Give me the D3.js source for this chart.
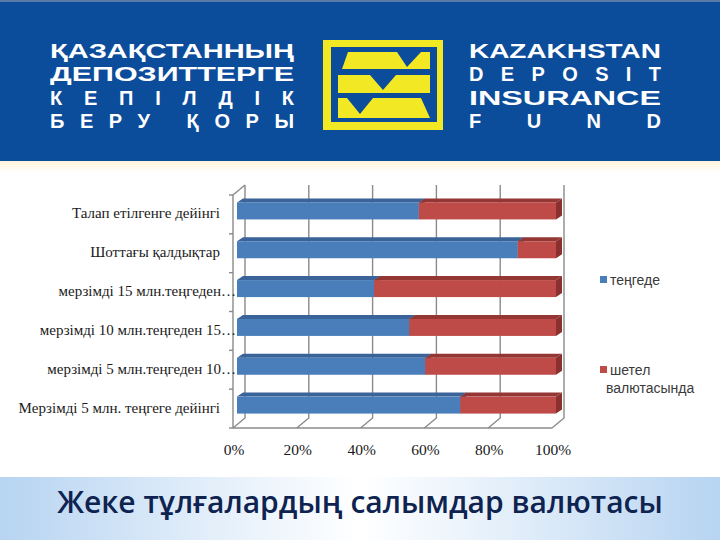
<!DOCTYPE html>
<html>
<head>
<meta charset="utf-8">
<script src="https://cdn.jsdelivr.net/npm/d3@7"></script>
<style>
  html, body { margin: 0; padding: 0; background: #ffffff; }
  svg { display: block; }
</style>
</head>
<body>
<svg id="chart" width="720" height="540"></svg>
<script>
// ---------------- data ----------------
const categories = [
  "Талап етілгенге дейінгі",
  "Шоттағы қалдықтар",
  "мерзімді 15 млн.теңгеден…",
  "мерзімді 10 млн.теңгеден 15…",
  "мерзімді 5 млн.теңгеден 10…",
  "Мерзімді 5 млн. теңгеге дейінгі"
];
const tengeShare   = [57, 88, 43, 54, 59, 70];
const foreignShare = [43, 12, 57, 46, 41, 30];
const seriesNames  = ["теңгеде", "шетел валютасында"];
const tickValues   = [0, 20, 40, 60, 80, 100];
const tickLabels   = ["0%", "20%", "40%", "60%", "80%", "100%"];
const headerLeft   = ["ҚАЗАҚСТАННЫҢ", "ДЕПОЗИТТЕРГЕ", "КЕПІЛДІК", "БЕРУ ҚОРЫ"];
const headerRight  = ["KAZAKHSTAN", "DEPOSIT", "INSURANCE", "FUND"];
const title        = "Жеке тұлғалардың салымдар валютасы";

// ---------------- drawing ----------------
const svg = d3.select("#chart");
const defs = svg.append("defs");

// header band
svg.append("rect").attr("x", 0).attr("y", 0).attr("width", 720).attr("height", 161).attr("fill", "#0b4c9b");
svg.append("rect").attr("x", 0).attr("y", 0).attr("width", 720).attr("height", 2).attr("fill", "#5a7aa5");
const cream = defs.append("linearGradient").attr("id", "cream").attr("x1", 0).attr("y1", 0).attr("x2", 0).attr("y2", 1);
cream.append("stop").attr("offset", 0).attr("stop-color", "#fff3dc");
cream.append("stop").attr("offset", 1).attr("stop-color", "#ffffff");
svg.append("rect").attr("x", 0).attr("y", 161).attr("width", 720).attr("height", 12).attr("fill", "url(#cream)");

// header texts: dense words are stretched, spaced words are letter-spaced
const hdrFont = "'Liberation Sans', Arial, sans-serif";
const baselines = [58, 81.3, 104.6, 127.9];
const spaced = new Set(["КЕПІЛДІК", "БЕРУ ҚОРЫ", "DEPOSIT", "FUND"]);
function headerBlock(lines, x0, w) {
  svg.append("g").selectAll("text").data(lines).join("text")
    .attr("x", x0).attr("y", (d, i) => baselines[i])
    .attr("textLength", w)
    .attr("lengthAdjust", d => spaced.has(d) ? "spacing" : "spacingAndGlyphs")
    .attr("font-family", hdrFont).attr("font-weight", "bold").attr("font-size", 20)
    .attr("fill", "#ffffff").text(d => d);
}
headerBlock(headerLeft, 50, 244);
headerBlock(headerRight, 469, 192);

// logo
const logo = svg.append("g");
const yel = "#f3e824";
logo.append("rect").attr("x", 323).attr("y", 40).attr("width", 120).attr("height", 90).attr("fill", yel);
logo.append("rect").attr("x", 331).attr("y", 47).attr("width", 106).attr("height", 75).attr("fill", "#0b4c9b");
const stripes = [
  [[348,52],[397,52],[407,67],[421,52],[430,52],[430,69],[342,69]],
  [[338,75],[370,75],[383,90],[396,75],[430,75],[430,93],[338,93]],
  [[338,98],[347,98],[360,114],[373,98],[421,98],[430,118],[338,118]]
];
logo.selectAll("path").data(stripes).join("path")
  .attr("d", d => d3.line()(d) + "Z").attr("fill", yel);

// footer band
const foot = defs.append("linearGradient").attr("id", "foot").attr("x1", 0).attr("y1", 0).attr("x2", 1).attr("y2", 0);
[[0, "#b7d4f1"], [0.3, "#e4effa"], [0.5, "#ffffff"], [0.7, "#e4effa"], [1, "#b7d4f1"]]
  .forEach(s => foot.append("stop").attr("offset", s[0]).attr("stop-color", s[1]));
svg.append("rect").attr("x", 0).attr("y", 477).attr("width", 720).attr("height", 63).attr("fill", "url(#foot)");
const titleText = svg.append("text").attr("x", 360).attr("y", 513).attr("text-anchor", "middle")
  .attr("font-family", "'Open Sans', 'Noto Sans', sans-serif").attr("font-weight", 600)
  .attr("font-size", 30).attr("fill", "#0e2350").text(title);
const natural = titleText.node().getComputedTextLength();
titleText.attr("font-size", 30 * 606 / natural);

// ---------------- chart ----------------
const x = d3.scaleLinear().domain([0, 100]).range([233, 552]);
const y = d3.scaleBand().domain(categories).range([195, 428]);
const wallDx = 12, wallDy = -10;
const grid = "#8a8a8a";
const g = svg.append("g");

// back-wall gridlines + floor diagonals
const gl = g.append("g").attr("stroke", grid).attr("stroke-width", 1.4).attr("fill", "none");
gl.selectAll("path.v").data(tickValues).join("path").attr("class", "v")
  .attr("d", t => `M${x(t) + wallDx},${y.range()[0] + wallDy}V${y.range()[1] + wallDy}L${x(t)},${y.range()[1]}`);
gl.append("path").attr("d", `M${x(0)},${y.range()[1]}H${x(100)}`);
gl.append("path").attr("d", `M${x(0) + wallDx},${y.range()[0] + wallDy}L${x(0)},${y.range()[0]}V${y.range()[1]}`);
const bounds = categories.map(c => y(c)).concat([y.range()[1]]);
gl.selectAll("path.tk").data(bounds).join("path").attr("class", "tk")
  .attr("d", b => `M${x(0) - 4},${b}H${x(0)}`);

// bars
const stackData = categories.map((c, i) => ({ cat: c, tenge: tengeShare[i], foreign: foreignShare[i] }));
const stack = d3.stack().keys(["tenge", "foreign"])(stackData);
const colors = [
  { front: "#4a7ebb", top: "#3a639a", side: "#335a8c" },
  { front: "#be4b48", top: "#943634", side: "#8a302e" }
];
const offX = 4, offY = -3.5, depX = 6, depY = -4, barH = 17;
stack.forEach((series, si) => {
  const sg = g.append("g");
  series.forEach((d, i) => {
    const x0 = x(d[0]) + offX, x1 = x(d[1]) + offX;
    const yc = y(categories[i]) + y.bandwidth() / 2 + offY;
    const y0 = yc - barH / 2, y1 = yc + barH / 2;
    sg.append("path").attr("fill", colors[si].top)
      .attr("d", `M${x0},${y0}L${x0 + depX},${y0 + depY}L${x1 + depX},${y0 + depY}L${x1},${y0}Z`);
    sg.append("rect").attr("x", x0).attr("y", y0).attr("width", x1 - x0).attr("height", barH)
      .attr("fill", colors[si].front);
    sg.append("path").attr("fill", colors[si].side)
      .attr("d", `M${x1},${y0}L${x1 + depX},${y0 + depY}L${x1 + depX},${y1 + depY}L${x1},${y1}Z`);
  });
});

// category labels
const serif = "'Liberation Serif', 'Times New Roman', serif";
g.append("g").selectAll("text").data(categories).join("text")
  .attr("x", d => d.endsWith("…") ? 236 : 220)
  .attr("y", d => y(d) + y.bandwidth() / 2 + 4)
  .attr("text-anchor", "end").attr("font-family", serif).attr("font-size", 15)
  .attr("fill", "#1a1a1a").text(d => d);

// x tick labels
g.append("g").selectAll("text").data(tickValues).join("text")
  .attr("x", t => x(t) + 1).attr("y", 455).attr("text-anchor", "middle")
  .attr("font-family", serif).attr("font-size", 15.5).attr("fill", "#1a1a1a")
  .text((t, i) => tickLabels[i]);

// legend
const legY = [280, 370];
const lg = g.append("g").attr("font-family", "'Liberation Sans', Arial, sans-serif").attr("font-size", 14).attr("fill", "#3a3a3a");
lg.selectAll("rect").data(seriesNames).join("rect")
  .attr("x", 600).attr("y", (d, i) => legY[i] - 4).attr("width", 7).attr("height", 7)
  .attr("fill", (d, i) => colors[i].front);
lg.append("text").attr("x", 610).attr("y", legY[0] + 5).text(seriesNames[0]);
lg.append("text").attr("x", 610).attr("y", legY[1] + 5).text(seriesNames[1].split(" ")[0]);
lg.append("text").attr("x", 606).attr("y", legY[1] + 23).text(seriesNames[1].split(" ")[1]);
</script>
</body>
</html>
